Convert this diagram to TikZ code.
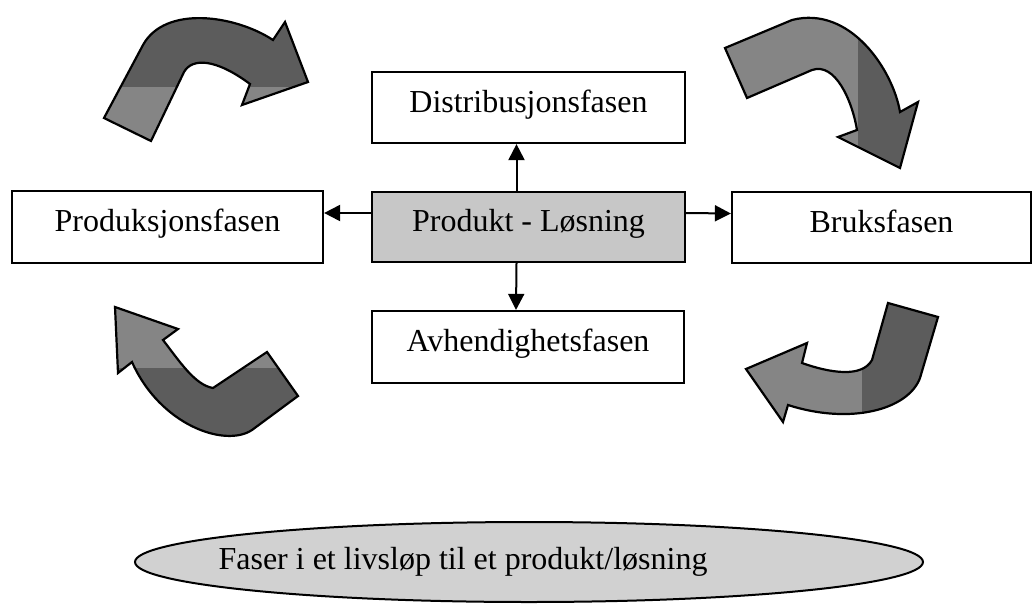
\documentclass[tikz,border=0pt]{standalone}
\usepackage{fontspec}
\setmainfont{Liberation Serif}
\usetikzlibrary{arrows.meta,shapes.geometric}

\definecolor{tonedark}{gray}{0.36}
\definecolor{tonelight}{gray}{0.52}
\definecolor{corefill}{gray}{0.78}
\definecolor{bannerfill}{gray}{0.82}

% outlines of the four curved cycle arrows
\def\curveTL{(104,118) -- (151,141) -- (184,72) .. controls (192,58) and (215,58) .. (250,84) -- (242,105) -- (308,82) -- (285,22) -- (273,40) .. controls (235,15) and (165,5) .. (143,45) -- cycle}
\def\curveTR{(725,48) -- (747,98) -- (812,70) .. controls (835,62) and (852,100) .. (857,130) -- (838,137) -- (900,168) -- (918,102) -- (900,112) .. controls (893,70) and (850,5) .. (792,20) -- cycle}
\def\curveBL{(115,307) -- (178,329) -- (163,340) .. controls (180,362) and (195,385) .. (213,388) -- (267,352) -- (298,396) -- (252,430) .. controls (225,448) and (160,425) .. (132,362) -- (118,373) -- cycle}
\def\curveBR{(888,303) -- (938,317) -- (920,378) .. controls (908,410) and (850,425) .. (788,405) -- (783,422) -- (746,369) -- (807,343) -- (802,363) .. controls (830,373) and (862,378) .. (872,360) -- cycle}

\begin{document}
\begin{tikzpicture}[x=1pt,y=-1pt,
  phase/.style={draw, line width=2.2pt, fill=white, inner sep=0pt,
    text height=18pt, text depth=9pt,
    font=\fontsize{32}{38}\selectfont},
  link/.style={line width=2pt, -{Triangle[length=16pt,width=16pt]}},
  bendline/.style={draw, line width=2.2pt, line join=miter}]

\useasboundingbox (0,0) rectangle (1035,610);

% curved arrows (two-tone fill, then outline)
\fill[tonedark] \curveTL;
\begin{scope}\clip \curveTL; \fill[tonelight] (0,87) rectangle (400,160);\end{scope}
\draw[bendline] \curveTL;

\fill[tonelight] \curveTR;
\begin{scope}\clip \curveTR; \fill[tonedark] (858,0) rectangle (960,200);\end{scope}
\draw[bendline] \curveTR;

\fill[tonedark] \curveBL;
\begin{scope}\clip \curveBL; \fill[tonelight] (90,290) rectangle (320,368);\end{scope}
\draw[bendline] \curveBL;

\fill[tonelight] \curveBR;
\begin{scope}\clip \curveBR; \fill[tonedark] (862,290) rectangle (960,440);\end{scope}
\draw[bendline] \curveBR;

% phase boxes
\node[phase, minimum width=313pt, minimum height=71pt] (dist) at (528.5,107.5) {Distribusjonsfasen};
\node[phase, fill=corefill, minimum width=313pt, minimum height=70pt] (core) at (528.5,227) {Produkt - Løsning};
\node[phase, minimum width=311pt, minimum height=72pt] (prodf) at (167.5,227) {Produksjonsfasen};
\node[phase, minimum width=299pt, minimum height=71pt] (bruk) at (881.5,227.5) {Bruksfasen};
\node[phase, minimum width=312pt, minimum height=72pt] (avh) at (528,347) {Avhendighetsfasen};

% connectors from the core
\draw[link] ([xshift=-12pt]core.north) -- ([xshift=-12pt]dist.south);
\draw[link] ([xshift=-12pt]core.south) -- ([xshift=-12pt]avh.north);
\draw[link] ([yshift=14pt]core.west) -- ([yshift=14pt]prodf.east);
\draw[link] ([yshift=14pt]core.east) -- ([yshift=14pt]bruk.west);

% caption ellipse
\node[ellipse, draw, line width=2pt, fill=bannerfill, minimum width=788pt, minimum height=80pt, inner sep=0pt] (banner) at (529,562) {};
\node[font=\fontsize{32}{38}\selectfont, inner sep=0pt] (bannertext) at (463,562) {Faser i et livsløp til et produkt/løsning};

\end{tikzpicture}
\end{document}
